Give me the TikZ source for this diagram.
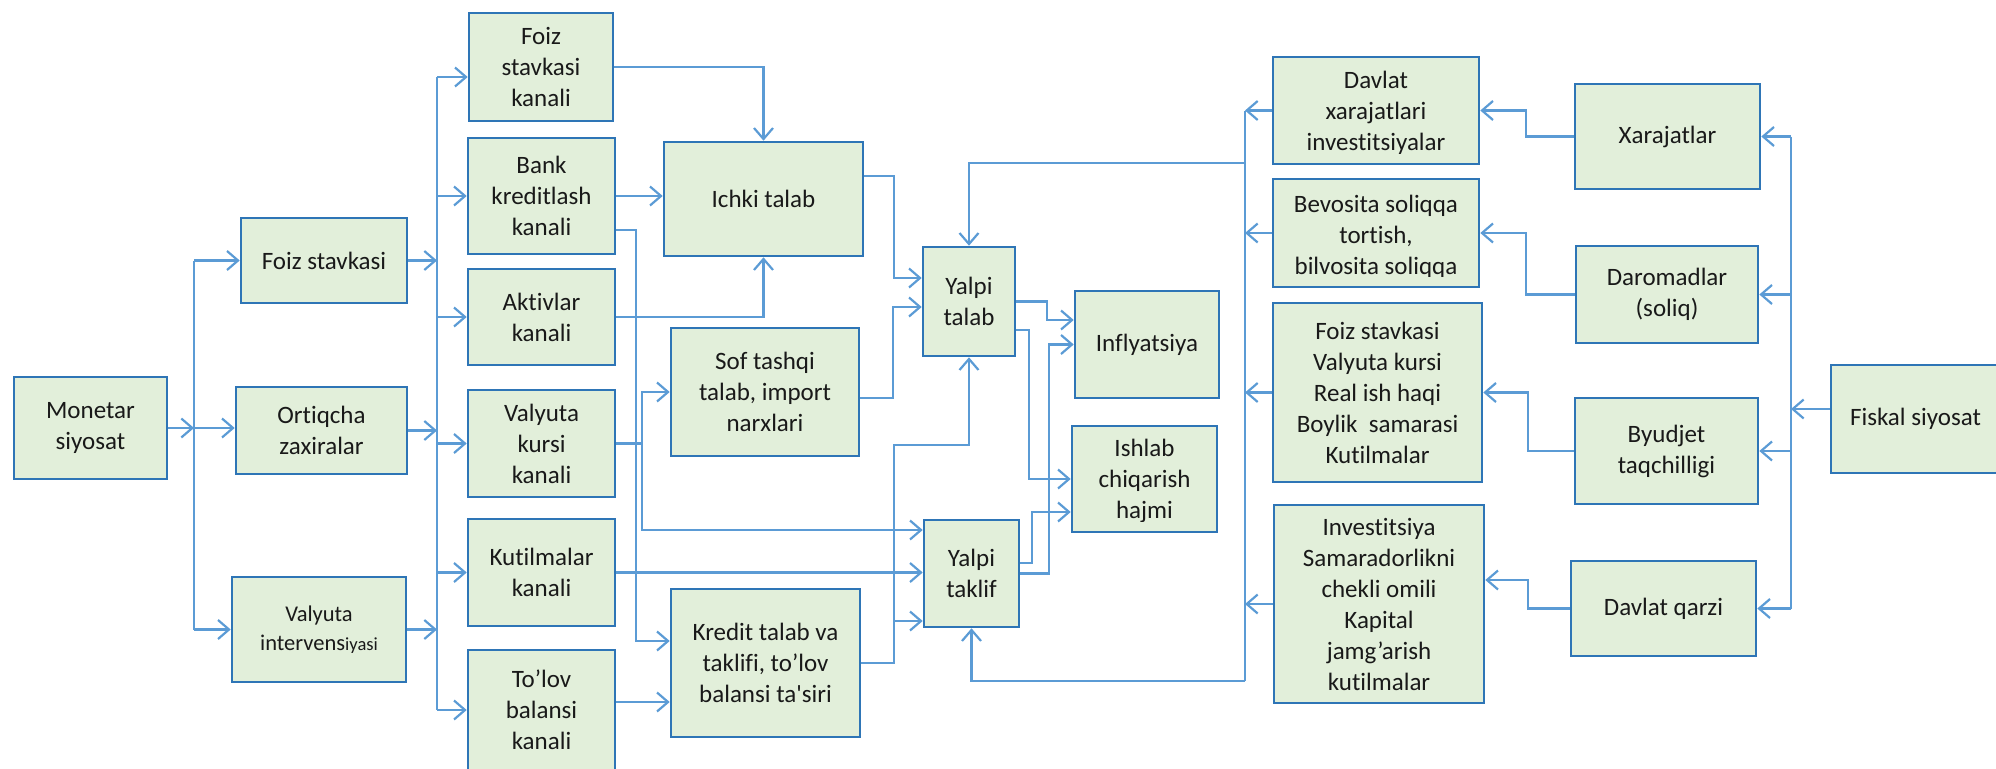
\documentclass[tikz,border=0pt]{standalone}
\usepackage{fontspec}
\setmainfont{Carlito}[Ligatures={TeXOff,NoCommon}]
\usetikzlibrary{arrows.meta,calc}
\definecolor{boxfill}{RGB}{226,239,218}
\definecolor{boxline}{RGB}{46,117,182}
\definecolor{arrline}{RGB}{91,155,213}
\definecolor{txt}{RGB}{25,25,25}
\begin{document}
\begin{tikzpicture}[x=1pt,y=-1pt,
  bx/.style={draw=boxline, line width=2.6pt, fill=boxfill, text=txt, align=center, inner sep=0pt, font=\fontsize{25}{31}\selectfont},
  lbl/.style={text=txt, align=center, inner sep=0pt, font=\fontsize{25}{31}\selectfont},
  ln/.style={draw=arrline, line width=2.2pt},
  ar/.style={ln, -{Straight Barb[length=11pt,width=19pt]}},
]
\useasboundingbox (0,0) rectangle (1996,768);
% left column
\node[bx, minimum width=153, minimum height=102] (mon) at (90.5,428) {Monetar\\siyosat};
\node[bx, minimum width=166, minimum height=85] (fs) at (324,260.5) {Foiz stavkasi};
\node[bx, minimum width=171, minimum height=87] (oz) at (321.5,430.5) {Ortiqcha\\zaxiralar};
\node[bx, minimum width=174, minimum height=105, font=\fontsize{22.5}{29}\selectfont] (vi) at (319,629.5) {Valyuta\\intervens{\fontsize{18.5}{29}\selectfont iyasi}};
% channels
\node[bx, minimum width=144, minimum height=108] (k1) at (541,67) {Foiz\\stavkasi\\kanali};
\node[bx, minimum width=147, minimum height=116] (k2) at (541.5,196) {Bank\\kreditlash\\kanali};
\node[bx, minimum width=147, minimum height=96] (k3) at (541.5,317) {Aktivlar\\kanali};
\node[bx, minimum width=147, minimum height=107] (k4) at (541.5,443.5) {Valyuta\\kursi\\kanali};
\node[bx, minimum width=147, minimum height=107] (k5) at (541.5,572.5) {Kutilmalar\\kanali};
\node[bx, minimum width=147, minimum height=120] (k6) at (541.5,710) {To’lov\\balansi\\kanali};
% intermediate
\node[bx, minimum width=199, minimum height=114] (it) at (763.5,199) {Ichki talab};
\node[bx, minimum width=188, minimum height=128] (st) at (765,392) {Sof tashqi\\talab, import\\narxlari};
\node[bx, minimum width=189, minimum height=148] (kt) at (765.5,663) {Kredit talab va\\taklifi, to’lov\\balansi ta'siri};
\node[bx, minimum width=92, minimum height=109] (yt) at (969,301.5) {Yalpi\\talab};
\node[bx, minimum width=95, minimum height=107] (yk) at (971.5,573.5) {Yalpi\\taklif};
\node[bx, minimum width=144, minimum height=107] (inf) at (1147,344.5) {Inflyatsiya};
\node[bx, minimum width=145, minimum height=106] (ich) at (1144.5,479) {};
\begin{scope}
  \clip (ich.north west) rectangle (ich.east |- 0,521);
  \node[lbl] (icht) at ([yshift=-2pt]ich.center) {Ishlab\\chiqarish\\hajmi};
\end{scope}
% fiscal effects
\node[bx, minimum width=206, minimum height=107] (dx) at (1376,110.5) {};
\begin{scope}
  \clip (dx.north west) rectangle (dx.east |- 0,153);
  \node[lbl] (dxt) at ([yshift=-2pt]dx.center) {Davlat\\xarajatlari\\investitsiyalar};
\end{scope}
\node[bx, minimum width=206, minimum height=108] (bs) at (1376,233) {};
\begin{scope}
  \clip (bs.north west) rectangle (bs.east |- 0,276);
  \node[lbl] (bst) at ([yshift=-4pt]bs.center) {Bevosita soliqqa\\tortish,\\bilvosita soliqqa};
\end{scope}
\node[bx, minimum width=209, minimum height=179] (fv) at (1377.5,392.5) {Foiz stavkasi\\Valyuta kursi\\Real ish haqi\\Boylik~ samarasi\\Kutilmalar};
\node[bx, minimum width=210, minimum height=198] (inv) at (1379,604) {Investitsiya\\Samaradorlikni\\chekli omili\\Kapital\\jamg’arish\\kutilmalar};
% fiscal instruments
\node[bx, minimum width=185, minimum height=105] (xr) at (1667.5,136.5) {Xarajatlar};
\node[bx, minimum width=182, minimum height=97] (dr) at (1667,294.5) {Daromadlar\\(soliq)};
\node[bx, minimum width=183, minimum height=106] (bt) at (1666.5,451) {Byudjet\\taqchilligi};
\node[bx, minimum width=185, minimum height=95] (dq) at (1663.5,608.5) {Davlat qarzi};
\node[bx, minimum width=169, minimum height=108] (fis) at (1915.5,419) {Fiskal siyosat};
% bus coordinates
\coordinate (t1) at (194,0);
\coordinate (t2) at (437,0);
\coordinate (c1) at (1245,0);
\coordinate (c2) at (1791,0);
\coordinate (ct) at (1245,163);
\coordinate (cb) at (1245,681);
\coordinate (vk) at (642,443.5);
\coordinate (kv) at (894,663);
\coordinate (kup) at (894,445);
% monetary policy to instruments
\draw[ar] (mon.east) -- (t1|-mon.east);
\draw[ar] (t1|-mon.east) -- (oz.west|-mon.east);
\draw[ln] (t1|-fs.west) -- (t1|-vi.west);
\draw[ar] (t1|-fs.west) -- (fs.west);
\draw[ar] (t1|-vi.west) -- (vi.west);
% instruments to channels
\draw[ar] (fs.east) -- (t2|-fs.east);
\draw[ar] (oz.east) -- (t2|-oz.east);
\draw[ar] (vi.east) -- (t2|-vi.east);
\coordinate (k1in) at ([yshift=-10pt]k1.west);
\draw[ln] (t2|-k1in) -- (t2|-k6.west);
\draw[ar] (t2|-k1in) -- (k1in);
\foreach \k in {k2,k3,k4,k5,k6} \draw[ar] (t2|-\k.west) -- (\k.west);
% channels onward
\draw[ar] (k1.east) -| (it.north);
\draw[ar] (k2.east) -- (it.west|-k2.east);
\draw[ar] ([yshift=-34pt]k2.east) -- ++(20,0) |- ([yshift=22pt]kt.west);
\draw[ar] (k3.east) -| (it.south);
\draw[ar] (k4.east) -- (vk) |- (st.west);
\draw[ar] (vk) |- ([yshift=43.5pt]yk.west);
\draw[ar] (k5.east) -- (yk.west|-k5.east);
\coordinate (k6o) at ([yshift=8pt]k6.east);
\draw[ar] (k6o) -- (kt.west|-k6o);
% to aggregate demand / supply
\draw[ar] ([yshift=23pt]it.east) -- ++(30,0) |- ([yshift=23.5pt]yt.west);
\draw[ar] ([yshift=-6pt]st.east) -- ++(33,0) |- ([yshift=-5.5pt]yt.west);
\draw[ar] (kt.east) -- (kv) -- (kup) -| (yt.south);
\draw[ar] (kv) |- ([yshift=-47.5pt]yk.west);
% to outcomes
\draw[ar] (yt.east) -- ++(31,0) |- ([yshift=24.5pt]inf.west);
\draw[ar] ([yshift=-28.5pt]yt.east) -- ++(13,0) |- (ich.west);
\draw[ar] (yk.east) -- ++(29,0) |- (inf.west);
\draw[ar] ([yshift=10.5pt]yk.east) -- ++(12,0) |- ([yshift=-33pt]ich.west);
% fiscal effects collector
\draw[ln] (c1|-dx.west) -- (cb);
\foreach \k in {dx,bs,fv,inv} \draw[ar] (\k.west) -- (c1|-\k.west);
\draw[ar] (ct) -| (yt.north);
\draw[ar] (cb) -| (yk.south);
% fiscal instruments
\draw[ln] (c2|-xr.east) -- (c2|-dq.east);
\coordinate (fo) at ([yshift=10pt]fis.west);
\draw[ar] (fo) -- (c2|-fo);
\foreach \k in {xr,dr,bt,dq} \draw[ar] (c2|-\k.east) -- (\k.east);
\draw[ar] (xr.west) -- ++(-48,0) |- (dx.east);
\draw[ar] (dr.west) -- ++(-49,0) |- (bs.east);
\draw[ar] (bt.west) -- ++(-46,0) |- (fv.east);
\draw[ar] (dq.west) -- ++(-42,0) |- ([yshift=24pt]inv.east);
\end{tikzpicture}
\end{document}
